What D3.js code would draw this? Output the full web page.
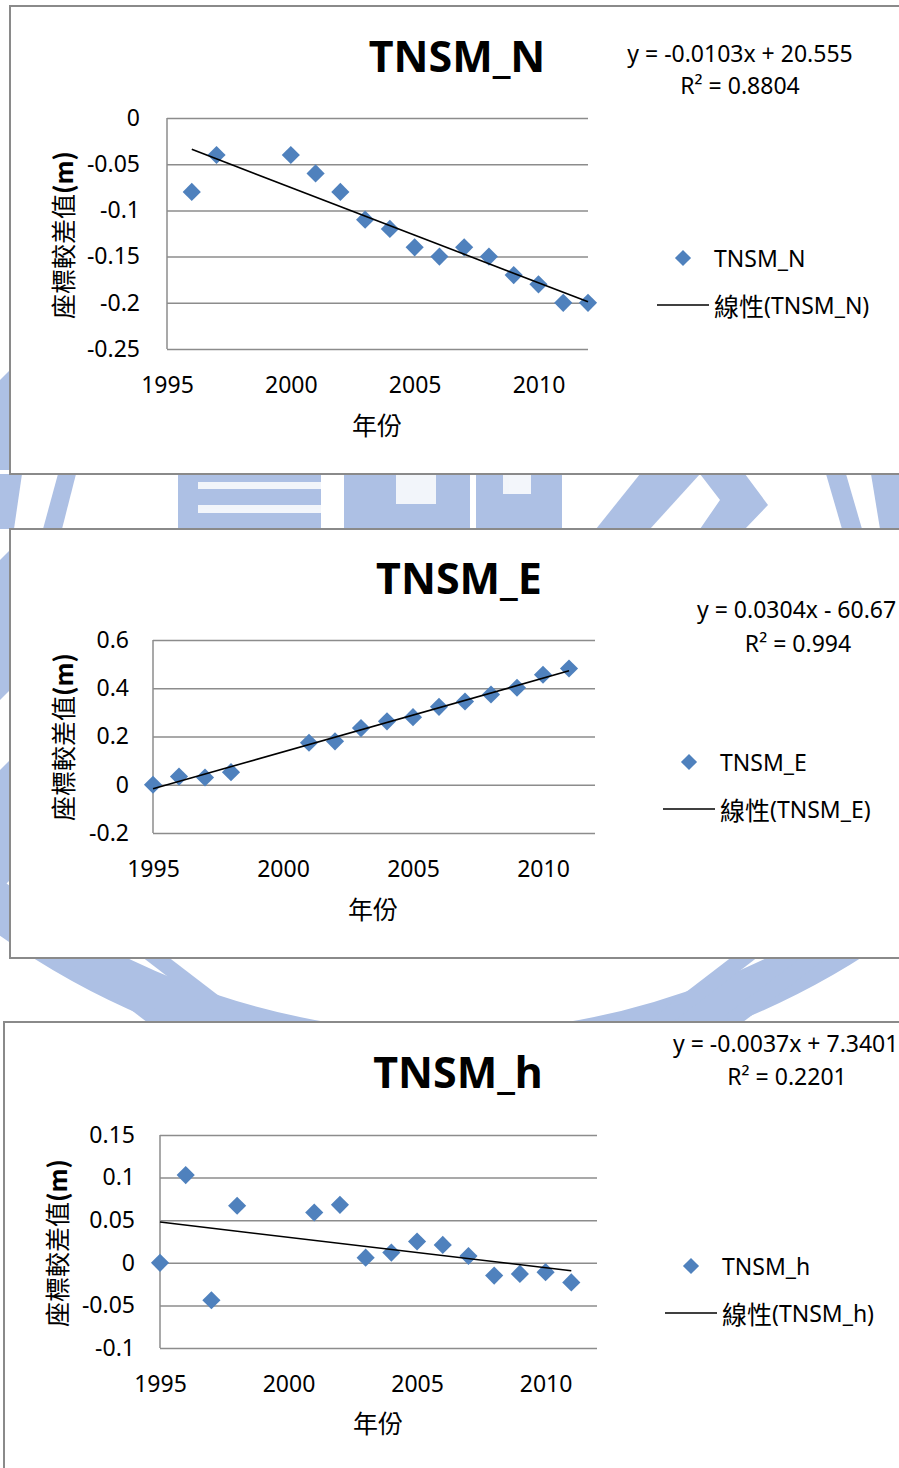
<!DOCTYPE html>
<html>
<head>
<meta charset="utf-8">
<script src="https://cdn.jsdelivr.net/npm/d3@7"></script>
<style>
  body { margin: 0; background: #fff; }
  svg { display: block; }
  text { font-family: "Noto Sans", "Noto Sans CJK TC", sans-serif; fill: #000; }
  .cjk { font-family: "Noto Sans CJK TC", "Noto Sans", sans-serif; }
</style>
</head>
<body>
<div id="chart"></div>
<script>
// shared x ticks
const xTicks = [1995, 2000, 2005, 2010];

// TNSM_N
const yearsN  = [1996, 1997, 2000, 2001, 2002, 2003, 2004, 2005, 2006, 2007, 2008, 2009, 2010, 2011, 2012];
const valuesN = [-0.08, -0.04, -0.04, -0.06, -0.08, -0.11, -0.12, -0.14, -0.15, -0.14, -0.15, -0.17, -0.18, -0.2, -0.2];
const yTicksN = [0, -0.05, -0.1, -0.15, -0.2, -0.25];

// TNSM_E
const yearsE  = [1995, 1996, 1997, 1998, 2001, 2002, 2003, 2004, 2005, 2006, 2007, 2008, 2009, 2010, 2011];
const valuesE = [0, 0.034, 0.03, 0.052, 0.174, 0.18, 0.235, 0.263, 0.28, 0.323, 0.345, 0.374, 0.402, 0.456, 0.482];
const yTicksE = [0.6, 0.4, 0.2, 0, -0.2];

// TNSM_h
const yearsH  = [1995, 1996, 1997, 1998, 2001, 2002, 2003, 2004, 2005, 2006, 2007, 2008, 2009, 2010, 2011];
const valuesH = [0, 0.103, -0.044, 0.067, 0.059, 0.068, 0.006, 0.012, 0.025, 0.021, 0.008, -0.015, -0.013, -0.011, -0.023];
const yTicksH = [0.15, 0.1, 0.05, 0, -0.05, -0.1];

const equations = ['y = -0.0103x + 20.555', 'y = 0.0304x - 60.67', 'y = -0.0037x + 7.3401'];
const r2Labels  = ['R² = 0.8804', 'R² = 0.994', 'R² = 0.2201'];
const names     = ['TNSM_N', 'TNSM_E', 'TNSM_h'];

const W = 899, H = 1468;
const BLUE = '#4f81bd', GRID = '#8c8c8c', WM = '#adc0e4';

const svg = d3.select('#chart').append('svg').attr('width', W).attr('height', H);

// faint watermark behind the charts
function drawWatermark() {
  const g = svg.append('g').attr('fill', WM);
  const polys = [
    [[0,474],[22,474],[14,529],[0,529]],
    [[58,474],[76,474],[62,529],[43,529]],
    [[178,474],[321,474],[321,529],[178,529]],
    [[344,474],[470,474],[470,529],[344,529]],
    [[476,474],[562,474],[562,529],[476,529]],
    [[640,474],[700,474],[650,529],[596,529]],
    [[700,474],[745,474],[768,505],[745,529],[700,529],[720,500]],
    [[826,474],[846,474],[862,529],[842,529]],
    [[871,474],[899,474],[899,529],[880,529]],
    [[0,380],[10,370],[10,470],[0,470]],
    [[0,560],[10,550],[10,690],[0,700]],
    [[0,770],[10,760],[10,880],[0,890]]
  ];
  g.selectAll('polygon').data(polys).join('polygon')
    .attr('points', d => d.map(p => p.join(',')).join(' '));
  // light gaps inside the logo letters
  const holes = [[198,482,123,7],[198,505,123,8],[396,474,40,30],[503,474,28,20]];
  svg.append('g').attr('fill', '#fff').attr('opacity', 0.85)
    .selectAll('rect').data(holes).join('rect')
    .attr('x', d => d[0]).attr('y', d => d[1]).attr('width', d => d[2]).attr('height', d => d[3]);
  // ring of the logo between chart 2 and 3
  svg.append('circle').attr('cx', 447).attr('cy', 305).attr('r', 750)
    .attr('fill', 'none').attr('stroke', WM).attr('stroke-width', 46);
  svg.append('g').attr('stroke', WM).attr('stroke-width', 16)
    .selectAll('line').data([[40,930,160,1022],[120,930,240,1022],[850,930,730,1022],[780,930,660,1022]])
    .join('line')
    .attr('x1', d => d[0]).attr('y1', d => d[1]).attr('x2', d => d[2]).attr('y2', d => d[3]);
}

function linearFit(xs, ys) {
  const mx = d3.mean(xs), my = d3.mean(ys);
  let sxy = 0, sxx = 0;
  xs.forEach((x, i) => { sxy += (x - mx) * (ys[i] - my); sxx += (x - mx) * (x - mx); });
  const b = sxy / sxx;
  return { b, a: my - b * mx };
}

function drawChart(cfg) {
  const f = cfg.frame, p = cfg.plot;
  svg.append('rect')
    .attr('x', f.x).attr('y', f.y).attr('width', f.w).attr('height', f.h)
    .attr('fill', '#fff').attr('stroke', '#8a8a8a').attr('stroke-width', 2);

  const x = d3.scaleLinear().domain([1995, 2012]).range([p.l, p.r]);
  const y = d3.scaleLinear().domain(d3.extent(cfg.yTicks)).range([p.b, p.t]);

  // gridlines + y labels
  const ya = svg.append('g').attr('transform', `translate(${p.l},0)`)
    .call(d3.axisLeft(y).tickValues(cfg.yTicks).tickSize(-(p.r - p.l)).tickPadding(cfg.ypad).tickFormat(d => String(d)));
  ya.select('.domain').remove();
  ya.selectAll('.tick line').attr('stroke', GRID).attr('stroke-width', 1.5);
  ya.selectAll('.tick text').attr('font-size', 23).attr('font-family', '"Noto Sans", sans-serif');
  svg.append('line').attr('x1', p.l).attr('x2', p.l).attr('y1', p.t).attr('y2', p.b)
    .attr('stroke', GRID).attr('stroke-width', 1.5);

  // x labels
  const xa = svg.append('g').attr('transform', `translate(0,${p.b})`)
    .call(d3.axisBottom(x).tickValues(xTicks).tickSize(0).tickPadding(28).tickFormat(d3.format('d')));
  xa.select('.domain').remove();
  xa.selectAll('.tick text').attr('font-size', 23).attr('font-family', '"Noto Sans", sans-serif');

  // points
  svg.append('g').selectAll('path').data(cfg.years.map((yr, i) => [yr, cfg.values[i]])).join('path')
    .attr('d', d3.symbol(d3.symbolSquare, 165))
    .attr('transform', d => `translate(${x(d[0])},${y(d[1])}) rotate(45)`)
    .attr('fill', BLUE);

  // linear trend
  const fit = linearFit(cfg.years, cfg.values);
  const ends = d3.extent(cfg.years);
  svg.append('path')
    .datum(ends.map(t => [t, fit.a + fit.b * t]))
    .attr('d', d3.line().x(d => x(d[0])).y(d => y(d[1])))
    .attr('stroke', '#000').attr('stroke-width', 1.6).attr('fill', 'none');

  // title
  svg.append('text').attr('x', cfg.title[0]).attr('y', cfg.title[1])
    .attr('text-anchor', 'middle').attr('font-size', 43).attr('font-weight', 'bold')
    .text(cfg.name);

  // trendline label
  svg.append('text').attr('x', cfg.eq[0]).attr('y', cfg.eq[1])
    .attr('text-anchor', cfg.eq[2]).attr('font-size', 23).text(cfg.equation);
  svg.append('text').attr('x', cfg.r2[0]).attr('y', cfg.r2[1])
    .attr('text-anchor', 'middle').attr('font-size', 23).text(cfg.r2label);

  // axis titles
  svg.append('text').attr('class', 'cjk').attr('x', cfg.xt[0]).attr('y', cfg.xt[1])
    .attr('text-anchor', 'middle').attr('dominant-baseline', 'central').attr('font-size', 25).text('年份');
  const yt = svg.append('text').attr('class', 'cjk')
    .attr('transform', `translate(${cfg.yt[0]},${cfg.yt[1]}) rotate(-90)`)
    .attr('text-anchor', 'middle').attr('dominant-baseline', 'central').attr('font-size', 25);
  yt.append('tspan').text('座標較差值');
  yt.append('tspan').attr('font-weight', 'bold').text('(m)');

  // legend
  const lg = cfg.legend;
  svg.append('path').attr('d', d3.symbol(d3.symbolSquare, 130))
    .attr('transform', `translate(${lg.x},${lg.y}) rotate(45)`).attr('fill', BLUE);
  svg.append('text').attr('x', lg.x + 31).attr('y', lg.y).attr('dominant-baseline', 'central')
    .attr('font-size', 23).text(cfg.name);
  svg.append('line').attr('x1', lg.x - 26).attr('x2', lg.x + 26).attr('y1', lg.y + 47).attr('y2', lg.y + 47)
    .attr('stroke', '#000').attr('stroke-width', 1.6);
  const lt = svg.append('text').attr('x', lg.x + 31).attr('y', lg.y + 47).attr('dominant-baseline', 'central')
    .attr('font-size', 23);
  lt.append('tspan').attr('class', 'cjk').attr('font-size', 25).text('線性');
  lt.append('tspan').text(`(${cfg.name})`);
}

drawWatermark();

const layouts = [
  { frame: {x: 10, y: 6, w: 900, h: 468}, plot: {l: 167, r: 588, t: 118, b: 349}, ypad: 27,
    title: [457, 72], eq: [740, 62, 'middle'], r2: [740, 94], xt: [377, 424], yt: [62, 235],
    legend: {x: 683, y: 258} },
  { frame: {x: 10, y: 529, w: 900, h: 429}, plot: {l: 153, r: 595, t: 640, b: 833}, ypad: 24,
    title: [459, 594], eq: [697, 618, 'start'], r2: [798, 652], xt: [373, 908], yt: [62, 737],
    legend: {x: 689, y: 762} },
  { frame: {x: 4, y: 1022, w: 906, h: 460}, plot: {l: 160, r: 597, t: 1135, b: 1348}, ypad: 25,
    title: [458, 1088], eq: [673, 1052, 'start'], r2: [787, 1085], xt: [378, 1422], yt: [56, 1243],
    legend: {x: 691, y: 1266} }
];
const series = [[yearsN, valuesN, yTicksN], [yearsE, valuesE, yTicksE], [yearsH, valuesH, yTicksH]];

layouts.forEach((l, i) => drawChart(Object.assign({}, l, {
  name: names[i], years: series[i][0], values: series[i][1], yTicks: series[i][2],
  equation: equations[i], r2label: r2Labels[i]
})));
</script>
</body>
</html>
